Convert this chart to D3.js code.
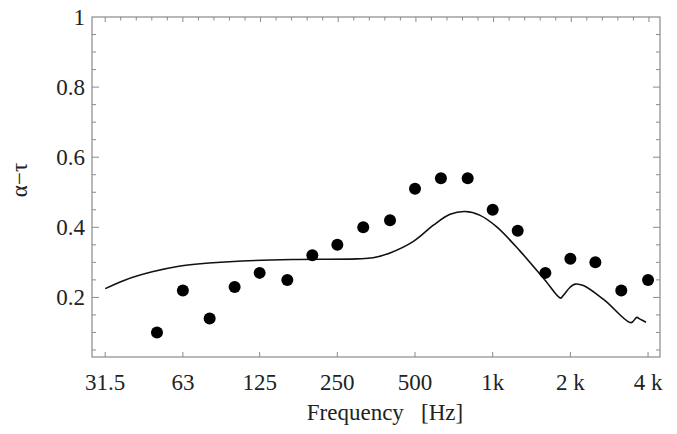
<!DOCTYPE html>
<html>
<head>
<meta charset="utf-8">
<script src="https://cdn.jsdelivr.net/npm/d3@7/dist/d3.min.js"></script>
<style>
  html, body { margin: 0; padding: 0; background: #fff; }
  svg { display: block; }
  text { font-family: "Liberation Serif", "Times New Roman", serif; fill: #222; }
</style>
</head>
<body>
<svg id="chart" width="677" height="434"></svg>
<script>
// ---- data ----
const pointFreqs = [50, 63, 80, 100, 125, 160, 200, 250, 315, 400, 500, 630, 800, 1000, 1250, 1600, 2000, 2500, 3150, 4000];
const pointValues = [0.10, 0.22, 0.14, 0.23, 0.27, 0.25, 0.32, 0.35, 0.40, 0.42, 0.51, 0.54, 0.54, 0.45, 0.39, 0.27, 0.31, 0.30, 0.22, 0.25];

const curveFreqs = [31.5, 37.7, 47.9, 60.8, 79.5, 107, 167, 297, 344, 400, 493, 589, 684, 782, 894, 1037, 1277, 1596, 1832, 1879, 1995, 2085, 2246, 2725, 3437, 3616, 3724, 3929];
const curveValues = [0.225, 0.25, 0.273, 0.289, 0.298, 0.304, 0.308, 0.31, 0.313, 0.327, 0.36, 0.406, 0.437, 0.445, 0.434, 0.401, 0.332, 0.249, 0.198, 0.206, 0.229, 0.238, 0.234, 0.191, 0.128, 0.143, 0.138, 0.129];

const xTickValues = [31.5, 63, 125, 250, 500, 1000, 2000, 4000];
const xTickLabels = ["31.5", "63", "125", "250", "500", "1k", "2 k", "4 k"];
const yTickValues = [0.2, 0.4, 0.6, 0.8, 1];
const yTickLabels = ["0.2", "0.4", "0.6", "0.8", "1"];

// ---- layout ----
const M = { left: 92, right: 660, top: 17, bottom: 357 };
const svg = d3.select("#chart");

const x = d3.scaleLog().domain([28, 4450]).range([M.left, M.right]);
const y = d3.scaleLinear().domain([0.03, 1]).range([M.bottom, M.top]);

const frameColor = "#8a8a8a";

// frame
svg.append("rect")
  .attr("x", M.left).attr("y", M.top)
  .attr("width", M.right - M.left).attr("height", M.bottom - M.top)
  .attr("fill", "none").attr("stroke", frameColor).attr("stroke-width", 1.2);

// ticks
const tickG = svg.append("g").attr("stroke", frameColor).attr("stroke-width", 1);
const yMinor = d3.range(1, 20).map(i => i * 0.05).filter(v => y(v) < M.bottom - 1);
yMinor.forEach(v => {
  const major = yTickValues.some(t => Math.abs(t - v) < 1e-6);
  const len = major ? 7 : 4;
  tickG.append("line").attr("x1", M.left).attr("x2", M.left + len).attr("y1", y(v)).attr("y2", y(v));
  tickG.append("line").attr("x1", M.right).attr("x2", M.right - len).attr("y1", y(v)).attr("y2", y(v));
});
// bottom major ticks
xTickValues.forEach(f => {
  tickG.append("line").attr("x1", x(f)).attr("x2", x(f)).attr("y1", M.bottom).attr("y2", M.bottom - 5);
});
// top ticks (fifth-octave)
const topTicks = d3.range(0, 36).map(k => 31.5 * Math.pow(2, k / 5));
topTicks.forEach((f, k) => {
  const len = k % 5 === 0 ? 5 : 3.5;
  tickG.append("line").attr("x1", x(f)).attr("x2", x(f)).attr("y1", M.top).attr("y2", M.top + len);
});

// tick labels
svg.append("g").selectAll("text").data(xTickValues).join("text")
  .attr("x", d => x(d)).attr("y", 390)
  .attr("text-anchor", "middle")
  .attr("font-size", 23)
  .text((d, i) => xTickLabels[i]);

svg.append("g").selectAll("text").data(yTickValues).join("text")
  .attr("x", 85).attr("y", d => y(d))
  .attr("dy", "0.34em")
  .attr("text-anchor", "end")
  .attr("font-size", 23)
  .text((d, i) => yTickLabels[i]);

// axis titles
svg.append("text")
  .attr("x", 385).attr("y", 420)
  .attr("text-anchor", "middle")
  .attr("font-size", 23)
  .attr("xml:space", "preserve")
  .text("Frequency   [Hz]");

svg.append("text")
  .attr("transform", "translate(27,180) rotate(-90)")
  .attr("text-anchor", "middle")
  .attr("font-size", 23)
  .text("α−τ");

// curve
const line = d3.line()
  .x((d, i) => x(curveFreqs[i]))
  .y(d => y(d))
  .curve(d3.curveCatmullRom.alpha(0.5));
svg.append("path")
  .attr("d", line(curveValues))
  .attr("fill", "none").attr("stroke", "#111").attr("stroke-width", 1.6);

// points
svg.append("g").selectAll("circle").data(pointValues).join("circle")
  .attr("cx", (d, i) => x(pointFreqs[i]))
  .attr("cy", d => y(d))
  .attr("r", 6)
  .attr("fill", "#000");
</script>
</body>
</html>
